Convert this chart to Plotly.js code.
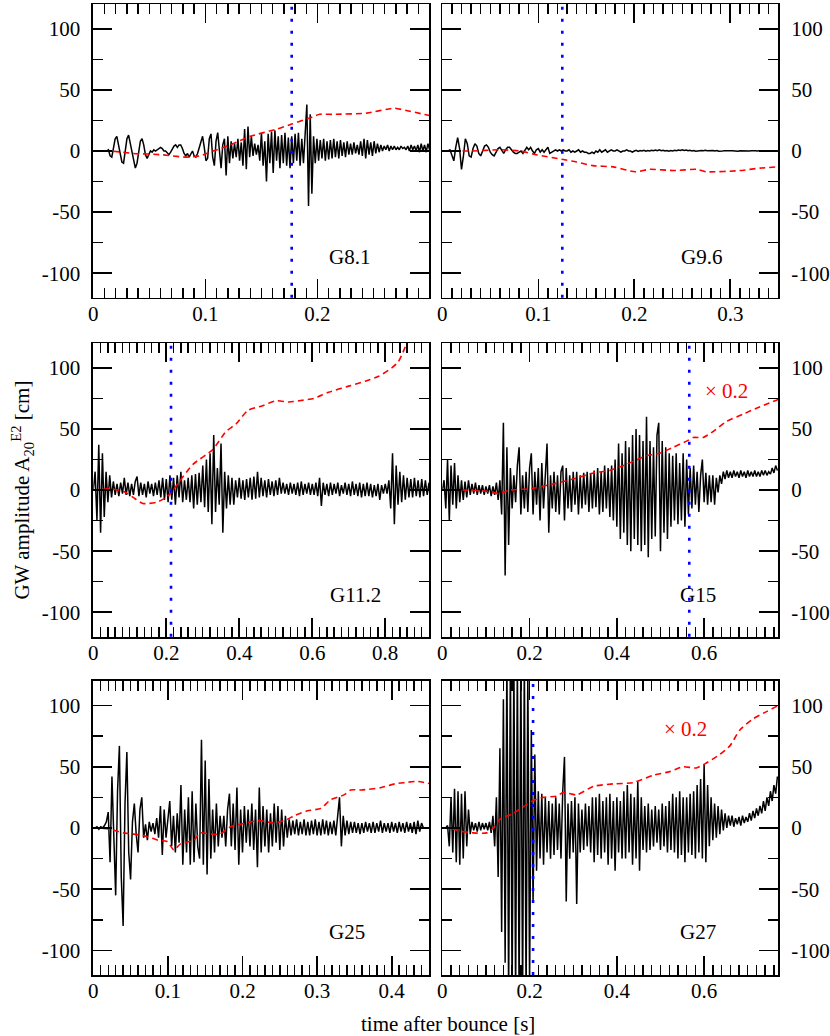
<!DOCTYPE html>
<html>
<head>
<meta charset="utf-8">
<script src="https://cdn.plot.ly/plotly-3.0.1.min.js"></script>
<style>html,body{margin:0;padding:0;background:#fff;}#chart{width:830px;height:1036px;}</style>
</head>
<body>
<div id="chart"></div>
<script>
// ---------- data ----------
const panelNames = ['G8.1', 'G9.6', 'G11.2', 'G15', 'G25', 'G27'];
const xRanges = [[0, 0.2995], [0, 0.35], [0, 0.92], [0, 0.77], [0, 0.45], [0, 0.77]];
const xMajor = [0.1, 0.1, 0.2, 0.2, 0.1, 0.2];
const xMinor = [0.01, 0.01, 0.02, 0.02, 0.01, 0.02];
const yTickVals = [-100, -50, 0, 50, 100];
const yTickText = ['-100', '-50', '0', '50', '100'];
const shockRevivalTimes = [0.177, 0.125, 0.213, 0.566, null, 0.208];
const scaledPanels = [false, false, false, true, false, true];

// sampling intervals of the black GW signals [s]
const dtG81 = 0.0015, dtG96 = 0.002, dtG112 = 0.005, dtG15 = 0.004, dtG25 = 0.0025, dtG27 = 0.004;

const hG81 = [
 0,0,0,0,0,0,0,0,0,1, -4,-5,2,10,12,4,-4,-9,-10,2,
 10,13,6,0,-8,-14,-10,0,8,10, 5,-3,-6,-3,0,-1,1,0,1,2,
 3,2,0,0,-2,-3,-1,2,4,5, 3,5,5,2,-2,-4,-2,-5,-3,0,
 -4,-5,-2,3,6,12,3,-8,-6,10, 14,-5,-12,8,15,-2,-14,5,10,-20,
 12,-10,8,-6,6,-5,10,-8,7,-12, 18,-15,20,-5,12,-4,6,-3,5,-8,
 15,-12,8,-25,14,-10,16,-18,17,-8, 12,-14,13,-10,15,-12,11,-14,12,-10,
 14,-8,15,-12,10,-10,15,38,-45,30, -35,12,-10,10,-8,9,-6,10,-8,8,
 -7,9,-6,10,-5,8,-6,9,-4,7, -5,8,-3,6,-3,7,-2,5,-3,8,
 -4,10,-6,9,-3,7,-4,8,-2,6, -1,5,0,4,1,5,0,4,1,4,
 1,3,1,4,2,3,1,4,0,5, 1,4,0,5,-1,6,0,5,-1,6, 1
];
const hG96 = [
 0,0,0,0,1,-3,-8,3,11,2, -15,-4,10,6,-4,-5,2,6,4,-2,
 -4,0,4,5,3,-1,-3,-4,-1,2, 3,0,-2,1,3,3,1,-1,-2,-2,
 -1,0,-2,1,3,1,3,0,-2,1, 2,-1,1,-1,1,3,-2,-1,0,1,
 0,1,0,1,0,0,1,-1,0,-1, 0,1,-1,0,-1,-1,-2,-2,-1,-2,
 0,-1,1,-1,0,1,-1,0,1,0, 0,1,0,-1,0,0,1,0,0,-1,
 0,0.5,-0.3,0.4,0,0.5,-0.2,0.3,0,0.6, 0.2,0.8,0.3,1,0.2,0.5,0,0.4,-0.2,0.3,
 0,0.5,0.2,0.8,0.4,1,0.5,0.8,0.2,0.5, 0,0.3,-0.2,0.2,0,0.4,0.2,0.6,0.3,0.5,
 0.2,0.4,0,0.3,-0.2,0.2,0,0.3,0.1,0.4, 0.2,0.3,0,0.2,-0.2,0.1,0,0.2,-0.1,0.1,
 0,0.2,-0.1,0.1,0,0.1
];
const hG112 = [
 0,15,-25,37,-35,30,-22,15,-10,12, -6,7,-4,5,-5,6,-3,10,-4,6,
 -5,5,-4,7,11,-5,6,-4,5,-6, 7,-3,5,-5,6,-4,8,-6,10,-8,
 9,-10,12,-8,10,-12,12,-6,15,-10, 8,-8,10,-10,12,-15,13,-12,14,-10,
 20,-14,25,-18,30,-28,45,-18,18,-12, 38,-35,15,-15,12,-12,10,-12,8,-6,
 10,-7,8,-8,9,-6,10,-8,11,-7, 15,-6,10,-5,8,-6,9,-4,7,-5,
 8,-4,10,-3,6,-3,5,-4,6,-3, 5,-4,6,-5,7,-4,5,-3,6,-4,
 5,-4,6,-5,10,-13,6,-4,5,-5, 6,-4,5,-3,6,-5,4,-3,6,-4,
 5,-5,7,-4,5,-5,6,-6,5,-5, 6,-5,5,-6,4,-5,5,-8,4,-3,
 5,-3,8,-15,30,-28,20,-12,15,-10, 12,-8,10,-6,9,-6,10,-5,8,-6,
 9,-5,8,-4,6
];
const hG15 = [
 0,8,-15,25,-25,20,-12,22,-15,12, -10,8,-8,7,-6,8,-4,5,-3,6,
 -4,4,-3,4,-4,3,-3,4,-5,3, -4,6,-8,8,-20,55,-70,35,-45,18,
 -15,12,-10,20,35,-20,12,-15,15,-18, 18,30,-20,15,-12,18,-25,22,-15,15,
 38,-35,12,-15,15,-18,12,-20,15,20, -25,18,-15,12,-18,15,-12,15,-20,12,
 -15,14,-12,15,-18,14,-15,16,-14,18, -20,15,-18,20,-15,18,-22,20,-25,25,
 -30,38,-40,30,-35,40,-45,35,-50,45, -40,50,-45,45,-50,40,-45,60,-55,40,
 -40,35,-38,45,55,-50,40,-35,35,-40, 30,-30,28,-25,30,-28,22,-25,30,-30,
 25,-20,18,-15,20,-12,15,-18,12,25, -10,14,-12,12,-10,12,-12,10,-2,12,
 5,15,9,16,10,15,10,16,11,15, 10,16,11,15,10,16,11,15,11,16,
 11,15,11,16,12,16,12,15,13,18, 14,20,16
];
const hG25 = [
 0,0,1,-1,1,0,2,5,13,-28, 42,-15,-55,30,67,-40,-80,20,62,-20,
 -42,5,20,-5,-20,15,25,-8,3,-10, 5,-3,4,-5,8,-8,18,-22,15,-8,
 10,22,-15,10,-20,12,-12,35,-30,15, -20,25,-30,30,-28,20,-15,-25,72,-30,
 55,-38,40,-25,15,-20,20,-15,10,-8, 10,-15,15,28,-15,20,-18,33,-30,15,
 -20,18,-12,15,-15,20,-18,15,-32,33, -20,18,-15,15,-20,12,-15,20,-12,18,
 -18,15,-15,10,-8,7,-6,6,-5,7, -6,5,-5,7,-6,5,-6,6,-5,7,
 -6,5,-6,7,-5,6,-6,5,-5,6, -6,8,25,-15,10,-6,6,-5,5,-4,
 5,-4,4,-5,4,-4,5,-3,4,-4, 5,-4,4,-3,6,-4,4,-3,4,-4,
 5,-3,4,-4,5,-3,4,-4,5,-3, 4,-4,5,-5,6,-3,4,0
];
const hG27 = [
 0,0,0,2,-15,25,-20,32,-28,30, -30,28,-25,30,-15,15,-5,5,-2,4,
 -3,5,-2,4,-1,4,-2,5,-4,10, -15,25,-40,65,-85,105,-110,140,-140,140,
 -140,140,-140,140,-140,140,-140,140,-140,130, -130,80,-60,60,-35,30,-25,28,-30,25,
 -20,22,-25,20,-22,25,-18,20,-25,30, 58,-60,20,-25,22,-20,25,-62,20,-20,
 15,-18,20,-15,18,-20,25,-28,25,-22, 28,-25,22,-20,25,-30,28,-25,22,-35,
 25,-20,22,-25,30,-25,35,-20,28,-30, 25,-25,38,-35,25,-18,18,-20,20,-18,
 15,-15,18,-12,15,-18,20,-15,18,-20, 22,-18,28,-20,25,-25,30,-22,25,-28,
 25,-20,28,-22,30,-25,35,-20,40,-25, 52,-28,35,-15,25,-10,20,-8,18,-5,
 15,-2,12,0,10,2,10,1,8,3, 9,2,10,4,9,5,12,6,14,8,
 16,10,18,12,22,14,25,18,30,22, 35,28,42
];

// red dashed curves (time [s], amplitude [cm])
const tRedG81 = [0, 0.015, 0.036, 0.06, 0.083, 0.095, 0.107, 0.122, 0.140, 0.164, 0.177, 0.193, 0.202, 0.214, 0.244, 0.268, 0.280, 0.300];
const vRedG81 = [0, 0, -2, -3, -5, -4, 0, 5, 12, 18, 22, 27, 30, 30, 31, 35, 33, 29];
const tRedG96 = [0, 0.030, 0.060, 0.081, 0.098, 0.126, 0.140, 0.157, 0.178, 0.201, 0.216, 0.241, 0.265, 0.275, 0.310, 0.331, 0.350];
const vRedG96 = [0, 0, 1, 0, -3, -7, -9, -12, -13, -17, -15, -16, -15, -17, -16, -14, -13];
const tRedG112 = [0, 0.045, 0.082, 0.109, 0.136, 0.173, 0.200, 0.214, 0.236, 0.273, 0.327, 0.364, 0.391, 0.423, 0.464, 0.500, 0.536, 0.564, 0.605, 0.645, 0.700, 0.745, 0.782, 0.818, 0.836, 0.859];
const vRedG112 = [0, 1, -1, -6, -11, -10, -6, -2, 7, 21, 33, 48, 54, 65, 69, 73, 72, 73, 75, 80, 85, 89, 93, 100, 105, 120];
const tRedG15 = [0, 0.048, 0.102, 0.132, 0.155, 0.201, 0.254, 0.300, 0.346, 0.384, 0.422, 0.468, 0.498, 0.529, 0.560, 0.575, 0.598, 0.621, 0.651, 0.689, 0.727, 0.770];
const vRedG15 = [0, 0, -1, -3, 0, 1, 5, 9, 14, 16, 21, 28, 30, 35, 40, 43, 43, 48, 56, 62, 68, 74];
const tRedG25 = [0, 0.022, 0.040, 0.054, 0.072, 0.087, 0.099, 0.108, 0.117, 0.135, 0.143, 0.157, 0.170, 0.184, 0.197, 0.211, 0.224, 0.242, 0.260, 0.269, 0.287, 0.305, 0.318, 0.336, 0.345, 0.359, 0.386, 0.404, 0.417, 0.435, 0.452];
const vRedG25 = [0, -1, -4, -5, -7, -10, -11, -18, -13, -10, -4, -5, -5, 1, 3, 5, 6, 4, 7, 10, 14, 16, 23, 27, 31, 31, 33, 36, 37, 38, 36];
const tRedG27 = [0, 0.025, 0.048, 0.071, 0.102, 0.117, 0.132, 0.163, 0.193, 0.212, 0.231, 0.262, 0.277, 0.308, 0.346, 0.392, 0.437, 0.483, 0.521, 0.552, 0.582, 0.605, 0.636, 0.659, 0.682, 0.712, 0.743, 0.770];
const vRedG27 = [0, -1, -3, -4, -4, 0, 7, 12, 19, 23, 25, 26, 29, 27, 34, 36, 37, 43, 46, 50, 49, 53, 60, 67, 80, 89, 95, 100];

// ---------- build figure ----------
const blackSignals = [[hG81, dtG81], [hG96, dtG96], [hG112, dtG112], [hG15, dtG15], [hG25, dtG25], [hG27, dtG27]];
const redCurves = [[tRedG81, vRedG81], [tRedG96, vRedG96], [tRedG112, vRedG112], [tRedG15, vRedG15], [tRedG25, vRedG25], [tRedG27, vRedG27]];

const colDomains = [[0.1124, 0.5169], [0.5329, 0.9377]];
const rowDomains = [[0.7127, 0.9958], [0.3854, 0.6686], [0.0589, 0.3427]];
const labelPos = [[0.762, 0.139], [0.772, 0.139], [0.78, 0.142], [0.762, 0.142], [0.755, 0.147], [0.762, 0.147]];
const scaleLabelPos = [null, null, null, [0.846, 0.837], null, [0.724, 0.836]];

const fontFamily = 'Liberation Serif';
const traces = [];
const layout = {
  width: 830, height: 1036,
  margin: {l: 0, r: 0, t: 0, b: 0},
  paper_bgcolor: '#fff', plot_bgcolor: '#fff',
  showlegend: false,
  font: {family: fontFamily, size: 21, color: '#000'},
  shapes: [], annotations: []
};

for (let p = 0; p < 6; p++) {
  const n = p + 1;
  const xa = n === 1 ? 'x' : 'x' + n;
  const ya = n === 1 ? 'y' : 'y' + n;
  const row = Math.floor(p / 2), col = p % 2;
  traces.push({type: 'scatter', mode: 'lines', x0: 0, dx: blackSignals[p][1], y: blackSignals[p][0],
    xaxis: xa, yaxis: ya, line: {color: '#000', width: 1.5}, hoverinfo: 'skip'});
  traces.push({type: 'scatter', mode: 'lines', x: redCurves[p][0], y: redCurves[p][1],
    xaxis: xa, yaxis: ya, line: {color: '#ff0000', width: 1.6, dash: '6px,4px', shape: 'spline', smoothing: 0.6}, hoverinfo: 'skip'});

  const common = {showline: true, linecolor: '#000', linewidth: 1.8, mirror: 'ticks', ticks: 'inside',
    ticklen: 19, tickwidth: 1.6, tickcolor: '#000', showgrid: false, zeroline: false,
    tickfont: {family: fontFamily, size: 21, color: '#000'}};
  layout['xaxis' + (n === 1 ? '' : n)] = Object.assign({}, common, {
    anchor: ya, domain: colDomains[col], range: xRanges[p], tick0: 0, dtick: xMajor[p],
    minor: {dtick: xMinor[p], ticks: 'inside', ticklen: 10, tickwidth: 1.4, tickcolor: '#000', showgrid: false},
    ticklabelstandoff: -4
  });
  layout['yaxis' + (n === 1 ? '' : n)] = Object.assign({}, common, {
    anchor: xa, domain: rowDomains[row], range: [-120, 120], tickmode: 'array',
    tickvals: yTickVals, ticktext: yTickText, side: col === 0 ? 'left' : 'right',
    minor: {dtick: 25, ticks: 'inside', ticklen: 10, tickwidth: 1.4, tickcolor: '#000', showgrid: false},
    ticklabelstandoff: 7
  });

  if (shockRevivalTimes[p] !== null) {
    layout.shapes.push({type: 'line', xref: xa, yref: ya + ' domain', x0: shockRevivalTimes[p], x1: shockRevivalTimes[p],
      y0: 0, y1: 1, layer: 'above', line: {color: '#0000ff', width: 2.6, dash: '3px,9px'}});
  }
  layout.annotations.push({text: panelNames[p], xref: xa + ' domain', yref: ya + ' domain',
    x: labelPos[p][0], y: labelPos[p][1], showarrow: false, xanchor: 'center', yanchor: 'middle',
    font: {family: fontFamily, size: 21, color: '#000'}});
  if (scaledPanels[p]) {
    layout.annotations.push({text: '× 0.2', xref: xa + ' domain', yref: ya + ' domain',
      x: scaleLabelPos[p][0], y: scaleLabelPos[p][1], showarrow: false, xanchor: 'center', yanchor: 'middle',
      font: {family: fontFamily, size: 21, color: '#ff0000'}});
  }
}

layout.annotations.push({text: 'GW amplitude A<sub>20</sub><sup>E2</sup> [cm]', xref: 'paper', yref: 'paper',
  x: 0.026, y: 0.527, textangle: -90, showarrow: false, xanchor: 'center', yanchor: 'middle',
  font: {family: fontFamily, size: 21, color: '#000'}});
layout.annotations.push({text: 'time after bounce [s]', xref: 'paper', yref: 'paper',
  x: 0.5398, y: 0.0115, showarrow: false, xanchor: 'center', yanchor: 'middle',
  font: {family: fontFamily, size: 21, color: '#000'}});

Plotly.newPlot('chart', traces, layout, {staticPlot: true, displayModeBar: false});
</script>
</body>
</html>
